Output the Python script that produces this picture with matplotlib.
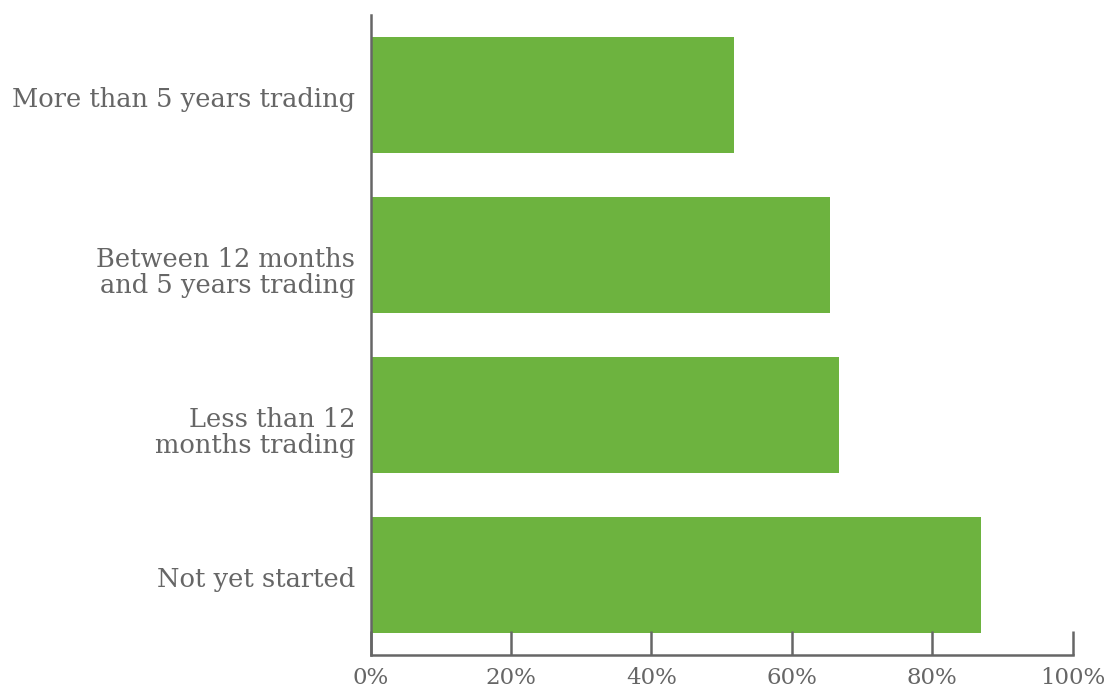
import matplotlib
matplotlib.use("Agg")
import matplotlib.pyplot as plt
from matplotlib.ticker import FuncFormatter
from matplotlib.transforms import ScaledTranslation

# survey share by trading stage, bottom to top
stages = [
    "Not yet started",
    "Less than 12\nmonths trading",
    "Between 12 months\nand 5 years trading",
    "More than 5 years trading",
]
share_pct = [87.0, 66.7, 65.5, 51.8]
x_ticks = [0, 20, 40, 60, 80, 100]

GREEN = "#6db33f"
GREY = "#666666"

plt.rcParams["font.family"] = ["DejaVu Serif"]

fig = plt.figure(figsize=(11.07, 6.91), dpi=100)
ax = fig.add_axes([370.5 / 1107, 36 / 691, 702 / 1107, 640 / 691])

ax.barh(range(len(stages)), share_pct, height=0.725, color=GREEN)

ax.set_xlim(0, 100)
ax.set_ylim(-0.5, len(stages) - 0.5)
ax.set_xticks(x_ticks)
ax.xaxis.set_major_formatter(FuncFormatter(lambda v, _: f"{v:.0f}%"))
ax.set_yticks(range(len(stages)))
ax.set_yticklabels(stages, ha="right", multialignment="right", linespacing=1.05)

for side in ("top", "right"):
    ax.spines[side].set_visible(False)
for side in ("left", "bottom"):
    ax.spines[side].set_color(GREY)
    ax.spines[side].set_linewidth(1.8)

ax.tick_params(axis="x", direction="in", length=17, width=1.8, color=GREY,
               labelcolor=GREY, labelsize=16.5, pad=9)
ax.tick_params(axis="y", length=0, labelcolor=GREY, labelsize=18.5, pad=11)

# first line of each category label sits on the bar centre, extra lines hang below
lift = ScaledTranslation(0, 0.08, fig.dpi_scale_trans)
for lab in ax.get_yticklabels():
    lab.set_verticalalignment("top")
    lab.set_transform(lab.get_transform() + lift)

fig.savefig("out.png", dpi=100)
